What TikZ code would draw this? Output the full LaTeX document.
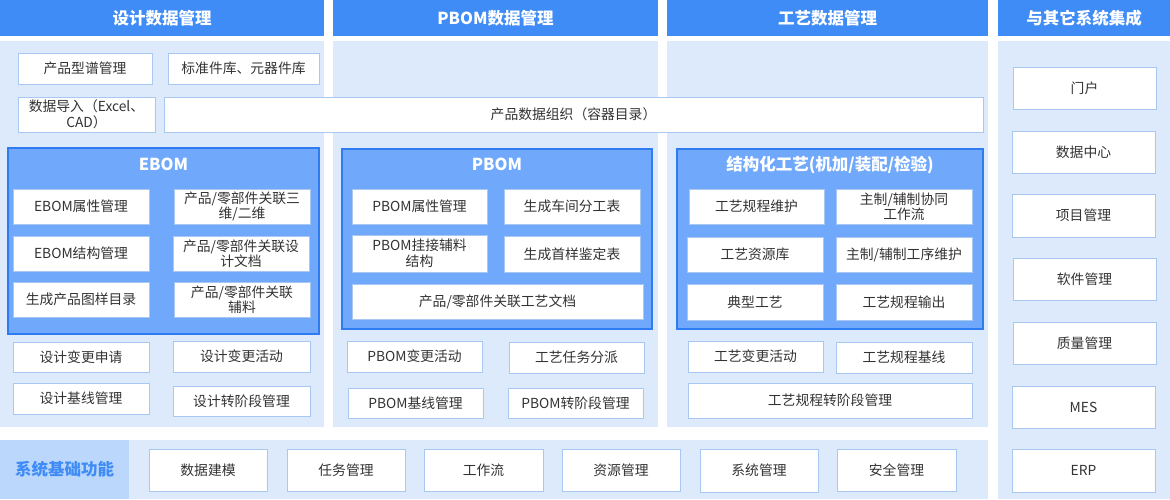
\documentclass[tikz,border=0pt]{standalone}
\usepackage{fontspec}
\setmainfont{Noto Sans CJK SC}
\definecolor{hdrblue}{HTML}{3F8CF6}
\definecolor{panelblue}{HTML}{DDEAFB}
\definecolor{groupfill}{HTML}{70A9FC}
\definecolor{groupline}{HTML}{2F7CF2}
\definecolor{boxline}{HTML}{A8C8F2}
\definecolor{txtgray}{HTML}{333333}
\definecolor{lblbg}{HTML}{BBD7FB}
\definecolor{lbltxt}{HTML}{3F8CF6}
\newcommand\bx[6]{\node[sbox,minimum width={(#4-#2)*1pt},minimum height={(#5-#3)*1pt}] (#1) at ({(#2+#4)/2},{(#3+#5)/2}) {#6};}
\newcommand\area[7]{\node[#7,minimum width={(#4-#2)*1pt},minimum height={(#5-#3)*1pt}] (#1) at ({(#2+#4)/2},{(#3+#5)/2}) {#6};}
\begin{document}
\begin{tikzpicture}[x=1pt,y=-1pt,
  sbox/.style={draw=boxline,fill=white,line width=1pt,inner sep=0pt,outer sep=0pt,align=center,text=txtgray,font=\fontsize{13.8}{15.5}\selectfont},
  hdr/.style={fill=hdrblue,inner sep=0pt,outer sep=0pt,text=white,font=\fontsize{16.5}{18}\selectfont\bfseries},
  panel/.style={fill=panelblue,inner sep=0pt,outer sep=0pt},
  grp/.style={fill=groupfill,draw=groupline,line width=1.2pt,inner sep=0pt,outer sep=0pt},
  gtitle/.style={text=white,font=\fontsize{16.5}{18}\selectfont\bfseries,inner sep=0pt},
  lbl/.style={fill=lblbg,inner sep=0pt,outer sep=0pt,text=lbltxt,font=\fontsize{16.5}{18}\selectfont\bfseries}]
\useasboundingbox[fill=white] (0,0) rectangle (1170,499);
% headers
\area{h1}{0}{0}{324}{36}{设计数据管理}{hdr}
\area{h2}{333}{0}{658}{36}{PBOM数据管理}{hdr}
\area{h3}{667}{0}{988}{36}{工艺数据管理}{hdr}
\area{h4}{998}{0}{1170}{36}{与其它系统集成}{hdr}
% panels
\area{pa}{0}{41}{324}{427}{}{panel}
\area{pb}{333}{41}{658}{427}{}{panel}
\area{pc}{667}{41}{988}{427}{}{panel}
\area{pd}{998}{41}{1170}{499}{}{panel}
\area{pe}{0}{440}{988}{499}{}{panel}
\area{pf}{0}{440}{129}{499}{系统基础功能}{lbl}
% top boxes
\bx{c1a}{18}{53}{152}{84}{产品型谱管理}
\bx{c1b}{168}{53}{319}{84}{标准件库、元器件库}
\bx{c1c}{18}{97}{155}{132}{数据导入（Excel、\\CAD）}
\bx{org}{164}{97}{983}{132}{产品数据组织（容器目录）}
% EBOM
\area{ga}{8}{148}{319}{334}{}{grp}
\node[gtitle] (gat) at (163.5,164) {EBOM};
\bx{e1}{13}{189}{149}{224}{EBOM属性管理}
\bx{e2}{174}{189}{310}{224}{产品/零部件关联三\\维/二维}
\bx{e3}{13}{236}{149}{271}{EBOM结构管理}
\bx{e4}{173}{236}{309}{271}{产品/零部件关联设\\计文档}
\bx{e5}{13}{282}{149}{317}{生成产品图样目录}
\bx{e6}{174}{282}{310}{317}{产品/零部件关联\\辅料}
\bx{d1}{13}{342}{149}{372}{设计变更申请}
\bx{d2}{173}{341}{310}{372}{设计变更活动}
\bx{d3}{13}{383}{149}{414}{设计基线管理}
\bx{d4}{173}{386}{310}{416}{设计转阶段管理}
% PBOM
\area{gb}{342}{149}{652}{329}{}{grp}
\node[gtitle] (gbt) at (497,164) {PBOM};
\bx{p1}{352}{189}{487}{224}{PBOM属性管理}
\bx{p2}{504}{189}{640}{224}{生成车间分工表}
\bx{p3}{352}{235}{487}{272}{PBOM挂接辅料\\结构}
\bx{p4}{504}{236}{640}{272}{生成首样鉴定表}
\bx{p5}{352}{284}{643}{319}{产品/零部件关联工艺文档}
\bx{q1}{347}{341}{482}{372}{PBOM变更活动}
\bx{q2}{509}{342}{644}{373}{工艺任务分派}
\bx{q3}{348}{388}{483}{418}{PBOM基线管理}
\bx{q4}{508}{388}{643}{418}{PBOM转阶段管理}
% process
\area{gc}{677}{149}{983}{329}{}{grp}
\node[gtitle] (gct) at (830,165) {结构化工艺(机加/装配/检验)};
\bx{t1}{689}{189}{824}{224}{工艺规程维护}
\bx{t2}{836}{189}{972}{224}{主制/辅制协同\\工作流}
\bx{t3}{687}{237}{823}{272}{工艺资源库}
\bx{t4}{836}{237}{972}{272}{主制/辅制工序维护}
\bx{t5}{687}{284}{823}{320}{典型工艺}
\bx{t6}{836}{284}{972}{320}{工艺规程输出}
\bx{u1}{688}{341}{823}{372}{工艺变更活动}
\bx{u2}{836}{342}{972}{373}{工艺规程基线}
\bx{u3}{688}{383}{972}{418}{工艺规程转阶段管理}
% integration
\bx{r1}{1013}{67}{1156}{109}{门户}
\bx{r2}{1012}{131}{1155}{173}{数据中心}
\bx{r3}{1012}{194}{1155}{237}{项目管理}
\bx{r4}{1013}{258}{1156}{300}{软件管理}
\bx{r5}{1013}{322}{1156}{364}{质量管理}
\bx{r6}{1012}{386}{1155}{428}{MES}
\bx{r7}{1012}{449}{1155}{492}{ERP}
% base functions
\bx{b1}{149}{449}{267}{491}{数据建模}
\bx{b2}{287}{449}{405}{491}{任务管理}
\bx{b3}{424}{449}{543}{491}{工作流}
\bx{b4}{562}{449}{680}{491}{资源管理}
\bx{b5}{700}{449}{818}{492}{系统管理}
\bx{b6}{837}{449}{956}{491}{安全管理}
\end{tikzpicture}
\end{document}
